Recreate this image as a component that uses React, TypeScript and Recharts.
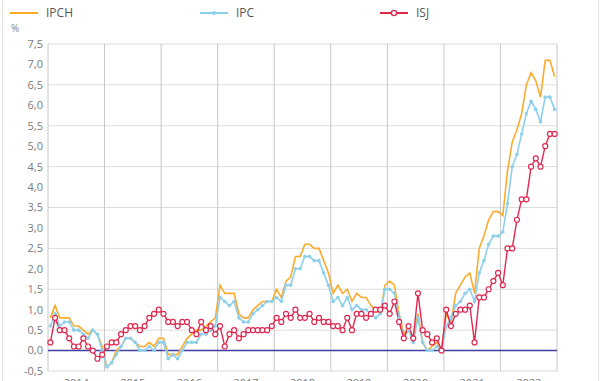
import { LineChart, Line, XAxis, YAxis, CartesianGrid, ReferenceLine } from 'recharts';

const years = [2014, 2015, 2016, 2017, 2018, 2019, 2020, 2021, 2022];

// monthly values, one row per year
const ipch = [
    0.8, 1.1, 0.8, 0.8, 0.8, 0.6, 0.6, 0.5, 0.4, 0.5, 0.4, 0.1,
    -0.4, -0.3, 0.0, 0.1, 0.3, 0.3, 0.2, 0.1, 0.1, 0.2, 0.1, 0.3,
    0.3, -0.1, -0.1, -0.1, 0.1, 0.3, 0.4, 0.5, 0.5, 0.6, 0.7, 0.8,
    1.6, 1.4, 1.4, 1.4, 0.9, 0.8, 0.8, 1.0, 1.1, 1.2, 1.2, 1.2,
    1.5, 1.3, 1.7, 1.8, 2.3, 2.3, 2.6, 2.6, 2.5, 2.5, 2.2, 1.9,
    1.4, 1.6, 1.4, 1.5, 1.2, 1.4, 1.3, 1.3, 1.1, 1.0, 0.9, 1.6,
    1.7, 1.6, 0.9, 0.4, 0.6, 0.3, 0.9, 0.2, 0.0, 0.1, 0.2, 0.0,
    0.9, 0.7, 1.4, 1.6, 1.8, 1.9, 1.4, 2.5, 2.8, 3.2, 3.4, 3.4,
    3.3, 4.4, 5.1, 5.4, 5.8, 6.5, 6.8, 6.6, 6.2, 7.1, 7.1, 6.7,
];

const ipc = [
    0.6, 0.9, 0.6, 0.7, 0.7, 0.5, 0.5, 0.4, 0.3, 0.5, 0.4, 0.0,
    -0.4, -0.3, -0.1, 0.1, 0.3, 0.3, 0.2, 0.0, 0.0, 0.1, 0.0, 0.2,
    0.2, -0.2, -0.1, -0.2, 0.0, 0.2, 0.2, 0.2, 0.4, 0.4, 0.5, 0.6,
    1.3, 1.2, 1.1, 1.2, 0.8, 0.7, 0.7, 0.9, 1.0, 1.1, 1.2, 1.2,
    1.3, 1.2, 1.6, 1.6, 2.0, 2.0, 2.3, 2.3, 2.2, 2.2, 1.9, 1.6,
    1.2, 1.3, 1.1, 1.3, 1.0, 1.1, 1.0, 1.0, 0.9, 0.8, 0.9, 1.5,
    1.5, 1.4, 0.8, 0.3, 0.5, 0.2, 0.8, 0.2, 0.0, 0.0, 0.1, 0.0,
    0.6, 0.8, 1.1, 1.2, 1.4, 1.5, 1.2, 1.9, 2.2, 2.6, 2.8, 2.8,
    2.9, 3.6, 4.5, 4.8, 5.3, 5.8, 6.1, 5.9, 5.6, 6.2, 6.2, 5.9,
];

const isj = [
    0.2, 0.8, 0.5, 0.5, 0.3, 0.1, 0.1, 0.3, 0.1, 0.0, -0.2, -0.1,
    0.1, 0.2, 0.2, 0.4, 0.5, 0.6, 0.6, 0.5, 0.6, 0.8, 0.9, 1.0,
    0.9, 0.7, 0.7, 0.6, 0.7, 0.7, 0.5, 0.4, 0.7, 0.5, 0.6, 0.4,
    0.6, 0.1, 0.4, 0.5, 0.3, 0.4, 0.5, 0.5, 0.5, 0.5, 0.5, 0.6,
    0.8, 0.7, 0.9, 0.8, 1.0, 0.8, 0.8, 0.9, 0.7, 0.8, 0.7, 0.7,
    0.6, 0.6, 0.5, 0.8, 0.5, 0.9, 0.9, 0.8, 0.9, 1.0, 1.0, 1.1,
    0.9, 1.2, 0.7, 0.3, 0.6, 0.3, 1.4, 0.5, 0.4, 0.2, 0.3, 0.0,
    1.0, 0.6, 0.9, 1.0, 1.0, 1.1, 0.2, 1.3, 1.3, 1.5, 1.7, 1.9,
    1.6, 2.5, 2.5, 3.2, 3.7, 3.7, 4.5, 4.7, 4.5, 5.0, 5.3, 5.3,
];

const yTicks = [-0.5, 0, 0.5, 1, 1.5, 2, 2.5, 3, 3.5, 4, 4.5, 5, 5.5, 6, 6.5, 7, 7.5];

const COLORS = { ipch: '#fbab2c', ipc: '#8dd0ec', isj: '#e0284f' };

const data = ipch.map((v, i) => ({ idx: i, ipch: v, ipc: ipc[i], isj: isj[i] }));

const fmt = (v: number) => v.toFixed(1).replace('.', ',');
const tickStyle = { fontSize: 11, fill: '#7a7a7a' };

function LegendItem({ left, color, label, marker }: { left: number; color: string; label: string; marker?: 'dot' | 'ring' }) {
    return (
        <div style={{ position: 'absolute', left, top: 4, display: 'flex', alignItems: 'center' }}>
            <svg width={28} height={16}>
                <line x1={0} y1={8} x2={28} y2={8} stroke={color} strokeWidth={2} />
                {marker === 'dot' && <circle cx={14} cy={8} r={2} fill={color} />}
                {marker === 'ring' && <circle cx={14} cy={8} r={2.6} fill="#fff" stroke={color} strokeWidth={1.4} />}
            </svg>
            <span style={{ marginLeft: 8, fontSize: 12, color: '#555' }}>{label}</span>
        </div>
    );
}

export default function App() {
    return (
        <div style={{ position: 'absolute', left: 0, top: 0, width: 607, height: 381, overflow: 'hidden', background: '#fff', fontFamily: '"Open Sans", sans-serif' }}>
            <div style={{ position: 'absolute', left: 2, top: -1, width: 595, height: 400, border: '1px solid #e4e4e4' }} />
            <LegendItem left={10} color={COLORS.ipch} label="IPCH" />
            <LegendItem left={200} color={COLORS.ipc} label="IPC" marker="dot" />
            <LegendItem left={380} color={COLORS.isj} label="ISJ" marker="ring" />
            <div style={{ position: 'absolute', left: 11, top: 21, fontSize: 10, color: '#888' }}>%</div>
            <div style={{ position: 'absolute', left: 0, top: 0 }}>
                <LineChart width={607} height={410} data={data} margin={{ top: 44, right: 0, left: 0, bottom: 9 }}>
                    <CartesianGrid vertical={false} stroke="#dcdcdc" />
                    {years.concat([years[years.length - 1] + 1]).map((y, k) => (
                        <ReferenceLine key={y} x={k * 12 - 0.5} stroke="#c6c6c6" />
                    ))}
                    <XAxis
                        type="number"
                        dataKey="idx"
                        domain={[-0.5, 107.5]}
                        ticks={years.map((_, k) => k * 12 + 5.5)}
                        tickFormatter={(v: number) => String(years[Math.round((v - 5.5) / 12)])}
                        interval={0}
                        axisLine={false}
                        tickLine={false}
                        tick={tickStyle}
                        height={30}
                    />
                    <YAxis
                        domain={[-0.5, 7.5]}
                        ticks={yTicks}
                        tickFormatter={fmt}
                        axisLine={false}
                        tickLine={false}
                        tickSize={3}
                        tickMargin={2}
                        width={48}
                        tick={tickStyle}
                    />
                    <YAxis
                        yAxisId="right"
                        orientation="right"
                        domain={[-0.5, 7.5]}
                        ticks={yTicks}
                        tickFormatter={fmt}
                        axisLine={false}
                        tickLine={false}
                        tickSize={3}
                        tickMargin={2}
                        width={50}
                        tick={tickStyle}
                    />
                    <ReferenceLine y={0} stroke="#3f3f9f" strokeWidth={1.5} />
                    <Line type="linear" dataKey="ipch" name="IPCH" stroke={COLORS.ipch} strokeWidth={1.6} dot={false} isAnimationActive={false} />
                    <Line type="linear" dataKey="ipc" name="IPC" stroke={COLORS.ipc} strokeWidth={1.6}
                        dot={{ r: 1.8, fill: COLORS.ipc, stroke: 'none' }} isAnimationActive={false} />
                    <Line type="linear" dataKey="isj" name="ISJ" stroke={COLORS.isj} strokeWidth={1.4}
                        dot={{ r: 2.5, fill: '#fff', stroke: COLORS.isj, strokeWidth: 1.2 }} isAnimationActive={false} />
                </LineChart>
            </div>
        </div>
    );
}
